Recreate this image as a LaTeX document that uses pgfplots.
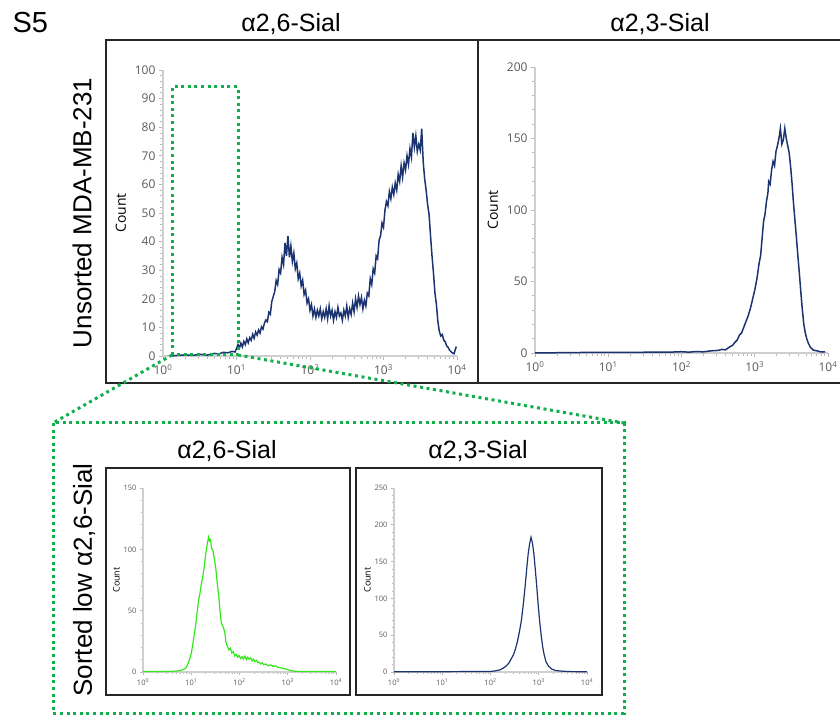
\documentclass[border=0pt]{standalone}
\usepackage{pgfplots}
\pgfplotsset{compat=1.18}
\usepackage{fontspec}
\setmainfont{Liberation Sans}
\newfontfamily\tickfont{Open Sans}

\definecolor{navyline}{HTML}{1B3370}
\definecolor{limeline}{HTML}{33E81A}
\definecolor{gatecol}{HTML}{0FB04C}
\definecolor{axisgrey}{HTML}{CFCFCF}
\definecolor{tickgrey}{HTML}{B8B8B8}
\definecolor{labelgrey}{HTML}{5A5A5A}

\pgfplotsset{
  facs/.style={
    scale only axis,
    axis lines*=left,
    axis line style={draw=axisgrey, line width=1.6pt},
    xmin=0, xmax=4, ymin=0,
    enlargelimits=false,
    clip=false,
    xtick={0,1,2,3,4},
    xticklabels={10\textsuperscript{0},10\textsuperscript{1},10\textsuperscript{2},10\textsuperscript{3},10\textsuperscript{4}},
    minor xtick={0.301,0.477,0.602,0.699,0.778,0.845,0.903,0.954,
                 1.301,1.477,1.602,1.699,1.778,1.845,1.903,1.954,
                 2.301,2.477,2.602,2.699,2.778,2.845,2.903,2.954,
                 3.301,3.477,3.602,3.699,3.778,3.845,3.903,3.954},
    tick style={draw=tickgrey, line width=0.8pt},
    tick align=outside,
    /pgf/number format/assume math mode=true,
    ticklabel style={text=labelgrey},
  },
  facsbig/.style={
    facs,
    major tick length=4pt, minor tick length=3pt,
    ticklabel style={font=\tickfont\fontsize{12}{12}\selectfont},
    ylabel style={font=\tickfont\fontsize{14}{14}\selectfont, text=black},
    ylabel shift=2pt,
    xticklabel style={yshift=-1pt},
  },
  facssmall/.style={
    facs,
    major tick length=3pt, minor tick length=2pt,
    ticklabel style={font=\tickfont\fontsize{7.5}{7.5}\selectfont},
    ylabel style={font=\tickfont\fontsize{9}{9}\selectfont, text=black},
    ylabel shift=-3pt,
  },
}

\begin{document}
\begin{tikzpicture}[x=1pt,y=1pt]
\path[use as bounding box] (0,0) rectangle (840,715);

% panel frames
\draw[black!85, line width=1.6pt] (106,675) rectangle (478,332);
\draw[black!85, line width=1.6pt] (478,675) rectangle (842,332);
\draw[black!85, line width=1.6pt] (106,247) rectangle (350,20);
\draw[black!85, line width=1.6pt] (356,247) rectangle (602,20);

% headings
\node[anchor=west, font=\fontsize{29}{30}\selectfont] at (9,692) {S5};
\node[font=\fontsize{25}{28}\selectfont] at (291,691) {α2,6-Sial};
\node[font=\fontsize{25}{28}\selectfont] at (660,691) {α2,3-Sial};
\node[font=\fontsize{25}{28}\selectfont] at (227,264) {α2,6-Sial};
\node[font=\fontsize{25}{28}\selectfont] at (478,264) {α2,3-Sial};
\node[rotate=90, font=\fontsize{26}{28}\selectfont] at (82,502) {Unsorted MDA-MB-231};
\node[rotate=90, font=\fontsize{26}{28}\selectfont] at (84,135) {Sorted low α2,6-Sial};

% unsorted, alpha2,6
\begin{axis}[facsbig, at={(163pt,359pt)}, anchor=origin,
  width=294pt, height=286pt, ymax=100,
  ytick={0,10,...,100}, minor y tick num=4, ylabel={Count}]
\addplot[navyline, line width=1.5pt, no marks] coordinates {
(0.10,0) (0.2,0.2) (0.3,0.4) (0.4,0.2) (0.5,0.6) (0.6,0.3) (0.7,0.9) (0.76,0.7)
(0.82,1.3) (0.88,1.1) (0.94,1.6) (0.98,1.4)
(1.00,2.6) (1.02,4.0) (1.04,2.8) (1.06,4.5) (1.08,3.2) (1.10,5.1) (1.12,4.0) (1.14,6.0)
(1.16,4.6) (1.18,6.4) (1.20,5.5) (1.22,7.6) (1.24,6.2) (1.26,8.4) (1.28,7.3) (1.30,9.1)
(1.32,8.0) (1.34,10.2) (1.36,9.4) (1.38,11.5) (1.40,12.6) (1.42,12.0) (1.44,15.3) (1.46,14.6)
(1.48,19.0) (1.50,20.8) (1.52,22.5) (1.54,26.4) (1.56,25.0) (1.58,30.2) (1.60,29.0) (1.62,34.5)
(1.64,32.0) (1.66,39.5) (1.68,35.0) (1.70,42.0) (1.72,34.5) (1.74,38.5) (1.76,33.0) (1.78,36.0)
(1.80,30.5) (1.82,32.5) (1.84,27.0) (1.86,29.0) (1.88,24.5) (1.90,26.5) (1.92,21.5) (1.94,23.0)
(1.96,18.5) (1.98,20.0) (2.00,16.0) (2.02,18.0) (2.04,14.0) (2.06,16.5) (2.08,13.5) (2.10,16.0)
(2.12,14.0) (2.14,16.5) (2.16,13.0) (2.18,15.5) (2.20,13.5) (2.22,16.5) (2.24,13.0) (2.26,17.5)
(2.28,14.0) (2.30,16.0) (2.32,12.5) (2.34,15.5) (2.36,13.5) (2.38,17.0) (2.40,14.0) (2.42,15.0)
(2.44,12.5) (2.46,16.0) (2.48,14.0) (2.50,17.5) (2.52,13.5) (2.54,16.5) (2.56,14.5) (2.58,18.5)
(2.60,15.5) (2.62,20.0) (2.64,17.0) (2.66,21.0) (2.68,18.0) (2.70,20.5) (2.72,16.5) (2.74,19.5)
(2.76,17.5) (2.78,22.0) (2.80,21.0) (2.82,27.0) (2.84,25.0) (2.86,30.5) (2.88,29.0) (2.90,35.0)
(2.92,34.0) (2.94,40.5) (2.96,42.0) (2.98,46.5) (3.00,45.0) (3.02,51.0) (3.04,54.0) (3.06,52.5)
(3.08,57.5) (3.10,55.0) (3.12,59.0) (3.14,56.5) (3.16,60.5) (3.18,58.0) (3.20,63.5) (3.22,61.0)
(3.24,66.5) (3.26,62.5) (3.28,67.5) (3.30,65.0) (3.32,70.0) (3.34,67.0) (3.36,72.5) (3.38,69.5)
(3.40,78.0) (3.42,73.0) (3.44,77.0) (3.46,71.5) (3.48,74.0) (3.50,72.0) (3.52,79.5) (3.54,68.0)
(3.56,62.0) (3.58,58.0) (3.60,53.0) (3.62,49.5) (3.64,42.0) (3.66,35.0) (3.68,29.0) (3.70,22.0)
(3.72,18.0) (3.74,12.0) (3.76,8.5) (3.78,7.0) (3.80,7.5) (3.82,5.5) (3.84,5.0) (3.86,3.5)
(3.88,3.0) (3.90,2.0) (3.92,1.5) (3.94,1.0) (3.96,0.8) (3.98,2.5) (3.99,3.3)
};
\end{axis}

% unsorted, alpha2,3
\begin{axis}[facsbig, at={(535pt,362pt)}, anchor=origin,
  width=293pt, height=286pt, ymax=200,
  ytick={0,50,...,200}, minor y tick num=4, ylabel={Count}]
\addplot[navyline, line width=1.5pt, no marks] coordinates {
(0,0) (0.5,0.3) (1.0,0.5) (1.3,0.4) (1.6,0.6) (1.9,0.7) (2.0,0.9) (2.1,0.6)
(2.2,1.0) (2.3,0.8) (2.4,1.5) (2.5,1.8) (2.55,2.5) (2.6,2.2) (2.65,4.0) (2.70,5.5)
(2.73,7.5) (2.76,9.0) (2.79,12.5) (2.82,14.0) (2.85,18.0) (2.88,22.0) (2.91,26.0) (2.94,31.0)
(2.97,37.5) (3.00,44.0) (3.03,52.0) (3.06,63.0) (3.08,68.0) (3.10,80.0) (3.12,92.0) (3.14,97.0)
(3.16,106.0) (3.18,112.0) (3.19,120.0) (3.21,118.0) (3.23,128.0) (3.25,134.0) (3.27,131.0) (3.29,141.0)
(3.31,145.0) (3.33,150.0) (3.35,157.0) (3.37,146.0) (3.39,149.0) (3.41,157.0) (3.43,150.0) (3.45,145.0)
(3.47,140.0) (3.49,130.0) (3.51,118.0) (3.53,104.0) (3.55,92.0) (3.57,80.0) (3.59,67.0) (3.61,55.0)
(3.63,42.0) (3.65,30.0) (3.67,20.0) (3.69,14.0) (3.71,10.0) (3.73,7.0) (3.76,4.0) (3.80,2.0)
(3.85,1.5) (3.90,0.8) (3.96,0.7)
};
\end{axis}

% sorted, alpha2,6
\begin{axis}[facssmall, at={(143pt,43pt)}, anchor=origin,
  width=193pt, height=184pt, ymax=150,
  ytick={0,50,...,150}, minor y tick num=4, ylabel={Count}]
\addplot[limeline, line width=1.2pt, no marks] coordinates {
(0,0.3) (0.3,0.5) (0.5,0.4) (0.7,0.8) (0.8,1.5) (0.86,2.5) (0.90,4.0) (0.94,7.5)
(0.97,11.0) (1.00,15.0) (1.03,22.0) (1.06,30.0) (1.09,38.0) (1.12,48.0) (1.15,58.0) (1.18,64.0)
(1.21,72.0) (1.24,78.0) (1.27,86.0) (1.30,96.0) (1.33,104.0) (1.36,110.0) (1.38,107.0) (1.40,108.0)
(1.42,101.0) (1.45,99.0) (1.48,92.0) (1.51,84.0) (1.54,72.0) (1.57,62.0) (1.60,48.0) (1.62,41.0)
(1.64,38.5) (1.67,36.0) (1.70,31.0) (1.72,24.0) (1.75,21.0) (1.78,18.0) (1.81,19.5) (1.84,15.5)
(1.87,16.5) (1.90,13.0) (1.93,14.5) (1.96,12.0) (1.99,13.5) (2.02,11.0) (2.05,12.5) (2.08,10.5)
(2.11,13.0) (2.14,10.0) (2.17,12.0) (2.20,10.5) (2.23,11.5) (2.26,9.0) (2.29,10.5) (2.32,8.5)
(2.35,9.5) (2.38,7.5) (2.41,8.0) (2.44,6.5) (2.47,7.5) (2.50,6.0) (2.55,6.5) (2.60,5.0)
(2.65,5.8) (2.70,4.5) (2.75,5.0) (2.80,3.8) (2.85,3.5) (2.90,3.0) (2.95,2.5) (3.00,2.0)
(3.05,1.3) (3.10,0.8) (3.20,0.5) (3.4,0.4) (3.6,0.5) (3.8,0.4) (4.0,0.5)
};
\end{axis}

% sorted, alpha2,3
\begin{axis}[facssmall, at={(394pt,43pt)}, anchor=origin,
  width=193pt, height=184pt, ymax=250,
  ytick={0,50,...,250}, minor y tick num=4, ylabel={Count}]
\addplot[navyline, line width=1.2pt, no marks] coordinates {
(0,0.3) (1.0,0.4) (2.0,0.8) (2.10,1.5) (2.20,3.0) (2.27,5.5) (2.33,8.5) (2.38,12.0)
(2.43,18.0) (2.48,24.0) (2.52,32.0) (2.56,42.0) (2.60,55.0) (2.64,70.0) (2.68,92.0) (2.72,118.0)
(2.75,140.0) (2.78,160.0) (2.81,174.0) (2.84,183.0) (2.87,175.0) (2.90,160.0) (2.93,138.0) (2.96,115.0)
(2.99,90.0) (3.02,68.0) (3.05,50.0) (3.08,35.0) (3.11,24.0) (3.15,14.0) (3.20,8.0) (3.27,4.0)
(3.35,2.0) (3.5,1.0) (3.7,0.5) (4.0,0.4)
};
\end{axis}

% sort gate and its zoom lines
\begin{scope}[gatecol, line width=3pt, dash pattern=on 3pt off 3.6pt]
\draw (172,360) rectangle (238,628);
\draw (172,360) -- (53,292);
\draw (238,360) -- (624,292);
\draw (53,292) rectangle (624,2);
\end{scope}
\end{tikzpicture}
\end{document}
